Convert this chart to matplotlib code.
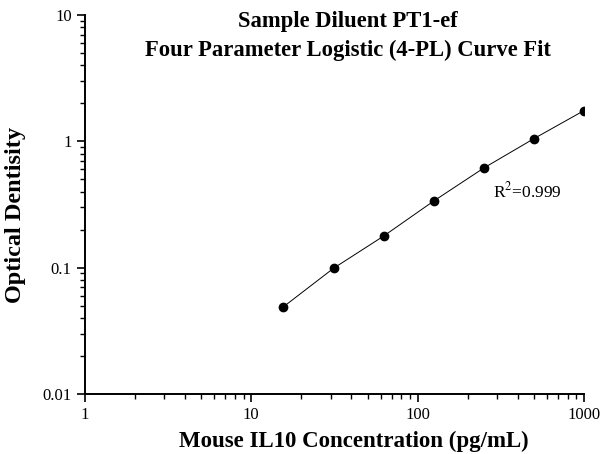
import matplotlib.pyplot as plt
from matplotlib.ticker import LogLocator, FixedLocator, NullFormatter

# ------------------------------------------------------------
# Standard curve data
# ------------------------------------------------------------
conc = [15.6, 31.25, 62.5, 125, 250, 500, 1000]
od = [0.049, 0.099, 0.178, 0.337, 0.615, 1.05, 1.75]
x_ticks = [1, 10, 100, 1000]
x_tick_labels = ["1", "10", "100", "1000"]
y_ticks = [0.01, 0.1, 1, 10]
y_tick_labels = ["0.01", "0.1", "1", "10"]

plt.rcParams['font.family'] = ['Liberation Serif', 'DejaVu Serif']
plt.rcParams['mathtext.fontset'] = 'stix'

fig = plt.figure(figsize=(6.02, 4.54), dpi=100)
ax = fig.add_axes([0.141, 0.132, 0.829, 0.835])

ax.plot(conc, od, color='black', linewidth=0.7, marker='o', markersize=6)
ax.set_xscale('log')
ax.set_yscale('log')
ax.set_xlim(1, 1000)
ax.set_ylim(0.01, 10)

ax.xaxis.set_major_locator(FixedLocator(x_ticks))
ax.set_xticklabels(x_tick_labels)
ax.yaxis.set_major_locator(FixedLocator(y_ticks))
ax.set_yticklabels(y_tick_labels)
ax.xaxis.set_minor_locator(LogLocator(base=10, subs=range(2, 10)))
ax.yaxis.set_minor_locator(LogLocator(base=10, subs=range(2, 10)))
ax.xaxis.set_minor_formatter(NullFormatter())
ax.yaxis.set_minor_formatter(NullFormatter())

for side in ['top', 'right']:
    ax.spines[side].set_visible(False)
for side in ['left', 'bottom']:
    ax.spines[side].set_linewidth(1.4)

ax.tick_params(which='major', direction='out', length=6, width=1.2, labelsize=12)
ax.tick_params(which='minor', direction='out', length=3.5, width=1)

ax.set_xlabel("Mouse IL10 Concentration (pg/mL)", fontsize=16.5, fontweight='bold')
ax.xaxis.set_label_coords(0.539, -0.098)
ax.set_ylabel("Optical Dentisity", fontsize=17.5, fontweight='bold')
ax.yaxis.set_label_coords(-0.118, 0.472)

ax.text(0.527, 1.01, "Sample Diluent PT1-ef\nFour Parameter Logistic (4-PL) Curve Fit",
        transform=ax.transAxes, ha='center', va='top', fontsize=16.3,
        fontweight='bold', linespacing=1.45)

ax.text(284, 0.40, "R$^2$=0.999", fontsize=12.5, va='center', ha='left')

plt.savefig("out.png", dpi=100)
